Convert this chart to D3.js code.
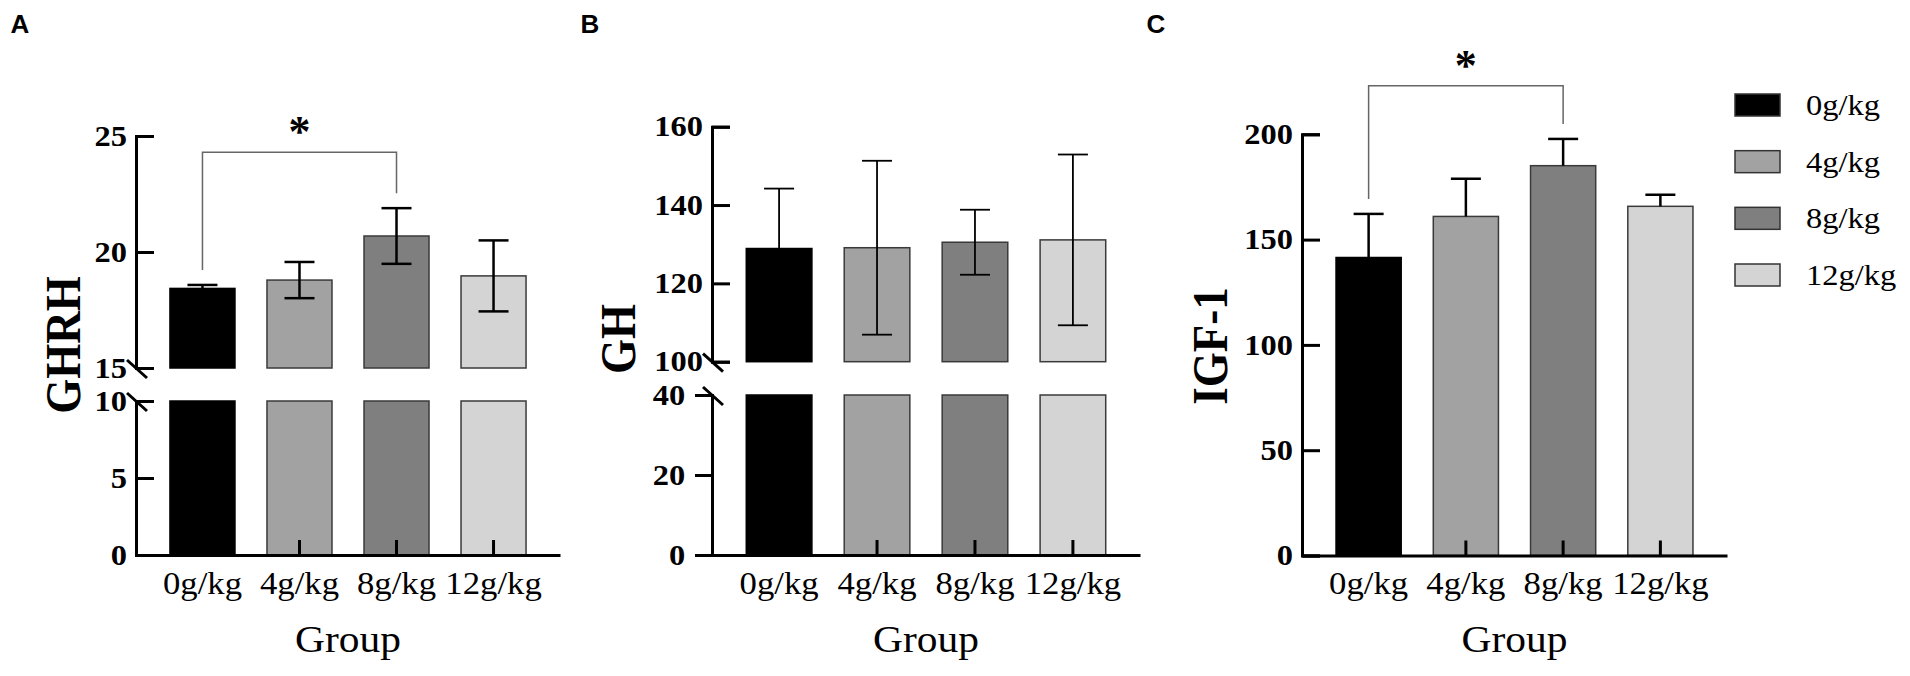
<!DOCTYPE html>
<html>
<head>
<meta charset="utf-8">
<script src="https://cdn.jsdelivr.net/npm/d3@7"></script>
<style>
  body { margin: 0; background: #fff; }
  svg { display: block; }
  text { font-family: "Liberation Serif", "Times New Roman", serif; fill: #000; }
</style>
</head>
<body>
<svg id="fig" width="1910" height="676"></svg>
<script>
/******************* Data *******************************/
var groups = ['0g/kg', '4g/kg', '8g/kg', '12g/kg'];
var fills = ['#000000', '#a2a2a2', '#7f7f7f', '#d4d4d4'];

var ghrhMean = [18.43, 18.79, 20.69, 18.97];
var ghrhErr = [0.15, 0.78, 1.20, 1.53];
var ghrhTicksLow = [0, 5, 10];
var ghrhTicksHigh = [15, 20, 25];

var ghMean = [128.9, 129.1, 130.5, 131.1];
var ghErr = [15.3, 22.2, 8.3, 21.8];
var ghTicksLow = [0, 20, 40];
var ghTicksHigh = [100, 120, 140, 160];

var igfMean = [141.5, 161.0, 185.1, 165.8];
var igfErr = [20.7, 17.9, 12.7, 5.5];
var igfTicks = [0, 50, 100, 150, 200];

// significance: groups compared and bracket height (data units)
var ghrhSig = { from: '0g/kg', to: '8g/kg', level: 24.3, label: '*' };
var igfSig = { from: '0g/kg', to: '8g/kg', level: 223, label: '*' };

/******************* Drawing ****************************/
var STRETCH = 1.12;
var svg = d3.select('#fig');

function styleAxis(sel, fontSize, bold) {
  sel.attr('font-family', null).attr('font-size', null);
  sel.selectAll('path, line').attr('stroke', '#000').attr('stroke-width', 3);
  sel.selectAll('text')
    .attr('fill', '#000')
    .style('font-family', '"Liberation Serif", "Times New Roman", serif')
    .style('font-size', fontSize + 'px')
    .style('font-weight', bold ? 'bold' : 'normal')
    .attr('transform', 'scale(' + STRETCH + ',1)');
}

function drawPanel(p) {
  var g = svg.append('g');
  var x = d3.scaleBand().domain(groups).range([p.x0, p.x1])
    .paddingInner(0.33).paddingOuter(0.35);
  var cx = function(name) { return x(name) + x.bandwidth() / 2; };

  var segs = p.segments.map(function(s) {
    return d3.scaleLinear().domain(s.domain).range(s.range);
  });
  var yTop = segs[segs.length - 1];

  // bars, one piece per axis segment
  segs.forEach(function(y) {
    var lo = y.domain()[0], hi = y.domain()[1];
    g.selectAll(null).data(p.mean).enter().append('rect')
      .attr('x', function(d, i) { return x(groups[i]); })
      .attr('width', x.bandwidth())
      .attr('y', function(d) { return y(Math.min(d, hi)); })
      .attr('height', function(d) { return y(lo) - y(Math.min(d, hi)); })
      .attr('fill', function(d, i) { return fills[i]; })
      .attr('stroke', function(d, i) { return i === 0 ? '#000' : '#3a3a3a'; })
      .attr('stroke-width', 1.5);
  });

  // small marks at the foot of each bar
  var y0 = segs[0];
  g.selectAll(null).data(groups).enter().append('line')
    .attr('x1', cx).attr('x2', cx)
    .attr('y1', y0(0)).attr('y2', y0(0) - 15)
    .attr('stroke', '#000').attr('stroke-width', 3);

  // error bars
  var cap = 15;
  var eb = g.selectAll(null).data(p.mean).enter().append('g')
    .attr('stroke', '#000').attr('stroke-width', p.errWidth);
  eb.append('line')
    .attr('x1', function(d, i) { return cx(groups[i]); })
    .attr('x2', function(d, i) { return cx(groups[i]); })
    .attr('y1', function(d, i) { return yTop(d + p.err[i]); })
    .attr('y2', function(d, i) { return p.twoSided ? yTop(d - p.err[i]) : yTop(d); });
  eb.append('line')
    .attr('x1', function(d, i) { return cx(groups[i]) - cap; })
    .attr('x2', function(d, i) { return cx(groups[i]) + cap; })
    .attr('y1', function(d, i) { return yTop(d + p.err[i]); })
    .attr('y2', function(d, i) { return yTop(d + p.err[i]); });
  if (p.twoSided) {
    eb.append('line')
      .attr('x1', function(d, i) { return cx(groups[i]) - cap; })
      .attr('x2', function(d, i) { return cx(groups[i]) + cap; })
      .attr('y1', function(d, i) { return yTop(d - p.err[i]); })
      .attr('y2', function(d, i) { return yTop(d - p.err[i]); });
  }

  // y axis segments
  segs.forEach(function(y, k) {
    var s = p.segments[k];
    var ax = d3.axisLeft(y).tickValues(s.ticks).tickSizeOuter(0)
      .tickSize(s.inward ? -18 : 17).tickPadding(s.inward ? 8 : 7);
    var a = g.append('g').attr('transform', 'translate(' + p.x0 + ',0)').call(ax);
    styleAxis(a, 29, true);
  });

  // break marks
  if (segs.length > 1) {
    var yb1 = segs[1](segs[1].domain()[0]);
    var yb0 = segs[0](segs[0].domain()[1]);
    [yb1, yb0].forEach(function(yb) {
      g.append('line')
        .attr('x1', p.x0 - 9).attr('y1', yb - 8)
        .attr('x2', p.x0 + 11).attr('y2', yb + 10)
        .attr('stroke', '#000').attr('stroke-width', 3);
    });
  }

  // x axis
  var xa = g.append('g').attr('transform', 'translate(0,' + y0(0) + ')')
    .call(d3.axisBottom(x).tickSize(0).tickSizeOuter(0));
  styleAxis(xa, 31, false);
  xa.selectAll('text').attr('y', 39).attr('dy', null);

  g.append('text')
    .attr('transform', 'translate(' + ((p.x0 + p.x1) / 2) + ',652) scale(' + STRETCH + ',1)')
    .attr('text-anchor', 'middle')
    .style('font-size', '37px')
    .text('Group');

  // y title
  g.append('text')
    .attr('transform', 'translate(' + p.titleX + ',' + p.titleY + ') rotate(-90) scale(1,' + STRETCH + ')')
    .attr('text-anchor', 'middle')
    .style('font-size', '45px')
    .style('font-weight', 'bold')
    .text(p.title);

  // panel letter
  g.append('text')
    .attr('x', p.letterX).attr('y', 33)
    .attr('text-anchor', 'middle')
    .style('font-family', '"Liberation Sans", Arial, sans-serif')
    .style('font-size', '26px')
    .style('font-weight', 'bold')
    .text(p.letter);

  // significance bracket
  if (p.sig) {
    var i0 = groups.indexOf(p.sig.from), i1 = groups.indexOf(p.sig.to);
    var ys = yTop(p.sig.level);
    var leg0 = yTop(p.mean[i0] + p.err[i0]) - 15;
    var leg1 = yTop(p.mean[i1] + p.err[i1]) - 15;
    g.append('path')
      .attr('d', 'M' + cx(p.sig.from) + ',' + leg0 + 'V' + ys + 'H' + cx(p.sig.to) + 'V' + leg1)
      .attr('fill', 'none').attr('stroke', '#666').attr('stroke-width', 1.5);
    g.append('text')
      .attr('x', (cx(p.sig.from) + cx(p.sig.to)) / 2)
      .attr('y', ys - 6)
      .attr('text-anchor', 'middle')
      .style('font-size', '44px')
      .style('font-weight', 'bold')
      .text(p.sig.label);
  }
}

drawPanel({
  letter: 'A', letterX: 20, title: 'GHRH', titleX: 80, titleY: 345,
  x0: 136, x1: 560, mean: ghrhMean, err: ghrhErr, twoSided: true, errWidth: 2.5,
  segments: [
    { domain: [0, 10], range: [555, 401], ticks: ghrhTicksLow, inward: true },
    { domain: [15, 25], range: [368, 136], ticks: ghrhTicksHigh, inward: true }
  ],
  sig: ghrhSig
});

drawPanel({
  letter: 'B', letterX: 590, title: 'GH', titleX: 635, titleY: 339,
  x0: 712, x1: 1140, mean: ghMean, err: ghErr, twoSided: true, errWidth: 1.8,
  segments: [
    { domain: [0, 40], range: [555, 395], ticks: ghTicksLow, inward: false },
    { domain: [100, 160], range: [361.7, 126.7], ticks: ghTicksHigh, inward: true }
  ]
});

drawPanel({
  letter: 'C', letterX: 1156, title: 'IGF-1', titleX: 1227, titleY: 346,
  x0: 1302, x1: 1727, mean: igfMean, err: igfErr, twoSided: false, errWidth: 2.5,
  segments: [
    { domain: [0, 200], range: [555.5, 134.3], ticks: igfTicks, inward: true }
  ],
  sig: igfSig
});

// legend
var legend = svg.append('g').attr('transform', 'translate(1735,0)');
var rowY = d3.scalePoint().domain(groups).range([105, 275]);
var rows = legend.selectAll(null).data(groups).enter().append('g')
  .attr('transform', function(d) { return 'translate(0,' + rowY(d) + ')'; });
rows.append('rect')
  .attr('x', 0).attr('y', -11).attr('width', 45).attr('height', 22)
  .attr('fill', function(d, i) { return fills[i]; })
  .attr('stroke', '#333').attr('stroke-width', 1.5);
rows.append('text')
  .attr('transform', 'translate(71,10) scale(' + STRETCH + ',1)')
  .style('font-size', '29px')
  .text(function(d) { return d; });
</script>
</body>
</html>
